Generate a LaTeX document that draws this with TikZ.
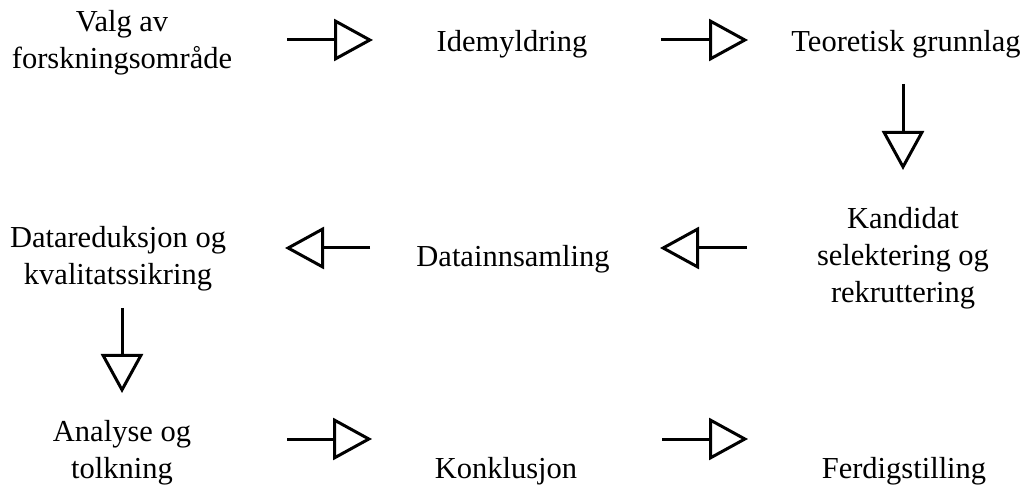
\documentclass[tikz,border=0pt]{standalone}
\usepackage{fontspec}
\setmainfont{Liberation Serif}
\usetikzlibrary{arrows.meta}
\begin{document}
\begin{tikzpicture}[x=1pt,y=-1pt,
  lbl/.style={font=\fontsize{30.5}{37}\selectfont, align=center, inner sep=0pt},
  flow/.style={line width=3pt, -{Triangle[open,length=39pt,width=42pt]}}]
\useasboundingbox (0,0) rectangle (1031,486);

% process steps
\node[lbl] (valg)   at (122,43)  {Valg av\\forskningsområde};
\node[lbl] (ide)    at (512,44)  {Idemyldring};
\node[lbl] (teori)  at (906,44)  {Teoretisk grunnlag};
\node[lbl] (kand)   at (903,258) {Kandidat\\selektering og\\rekruttering};
\node[lbl] (innsam) at (513,259) {Datainnsamling};
\node[lbl] (redu)   at (118,259) {Datareduksjon og\\kvalitatssikring};
\node[lbl] (anal)   at (122,453) {Analyse og\\tolkning};
\node[lbl] (konk)   at (506,471) {Konklusjon};
\node[lbl] (ferd)   at (904,471) {Ferdigstilling};

% arrow ends between the steps
\coordinate (a1s) at (287,40);  \coordinate (a1e) at (373,40);
\coordinate (a2s) at (661,40);  \coordinate (a2e) at (748,40);
\coordinate (a3s) at (903,84);  \coordinate (a3e) at (903,170);
\coordinate (a4s) at (747,248); \coordinate (a4e) at (660,248);
\coordinate (a5s) at (370,248); \coordinate (a5e) at (285,248);
\coordinate (a6s) at (122,308); \coordinate (a6e) at (122,393);
\coordinate (a7s) at (287,439); \coordinate (a7e) at (372,439);
\coordinate (a8s) at (662,439); \coordinate (a8e) at (748,439);

\draw[flow] (a1s) -- (a1e);
\draw[flow] (a2s) -- (a2e);
\draw[flow] (a3s) -- (a3e);
\draw[flow] (a4s) -- (a4e);
\draw[flow] (a5s) -- (a5e);
\draw[flow] (a6s) -- (a6e);
\draw[flow] (a7s) -- (a7e);
\draw[flow] (a8s) -- (a8e);
\end{tikzpicture}
\end{document}
